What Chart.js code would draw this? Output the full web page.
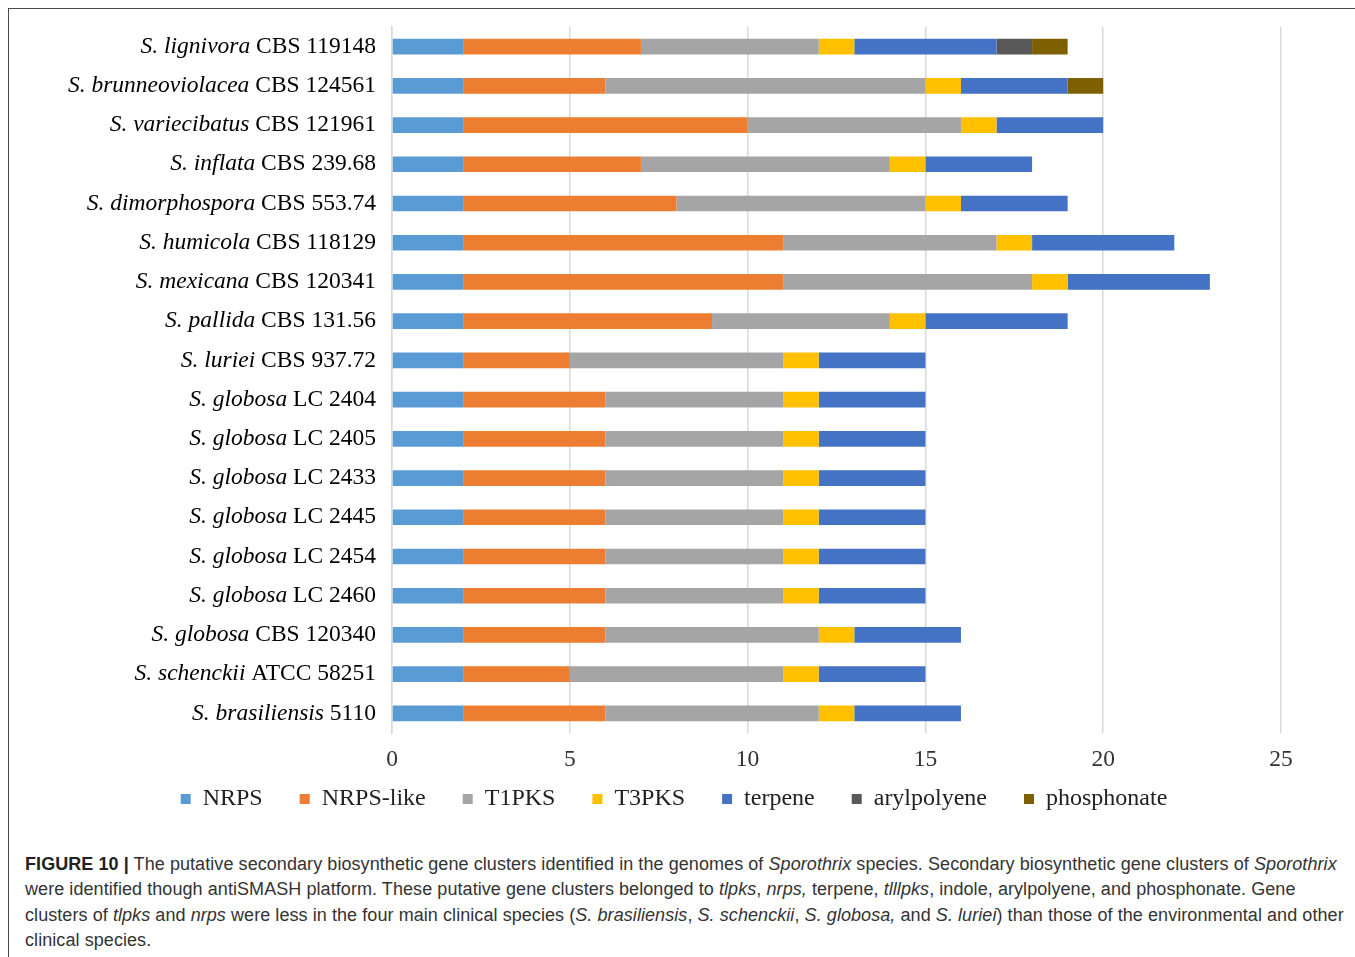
<!DOCTYPE html>
<html>
<head>
  <meta charset="UTF-8">
  <title>Sporothrix gene clusters</title>
  <script src="https://cdn.jsdelivr.net/npm/chart.js"></script>
  <style>
    body { margin: 0; background: #fff; width: 1355px; height: 957px; overflow: hidden; position: relative; }
    .frame { position: absolute; left: 8px; top: 8px; width: 1400px; height: 1000px; border: 1px solid #4a4a4a; }
    .chart-box { position: absolute; left: 9px; top: 9px; width: 1346px; height: 840px; }
    .caption { position: absolute; left: 25px; top: 852px; font-family: "Liberation Sans", Arial, sans-serif;
               font-size: 18px; letter-spacing: 0.07px; line-height: 25.3px; color: #333; }
    .caption div { white-space: nowrap; }
  </style>
</head>
<body>
  <div class="frame"></div>
  <div class="chart-box">
    <canvas id="chartClusters"></canvas>
  </div>
  <div class="caption">
    <div><b style="color:#222">FIGURE 10 |</b> The putative secondary biosynthetic gene clusters identified in the genomes of <i>Sporothrix</i> species. Secondary biosynthetic gene clusters of <i>Sporothrix</i></div>
    <div>were identified though antiSMASH platform. These putative gene clusters belonged to <i>tlpks</i>, <i>nrps,</i> terpene, <i>tlllpks</i>, indole, arylpolyene, and phosphonate. Gene</div>
    <div>clusters of <i>tlpks</i> and <i>nrps</i> were less in the four main clinical species (<i>S. brasiliensis</i>, <i>S. schenckii</i>, <i>S. globosa,</i> and <i>S. luriei</i>) than those of the environmental and other</div>
    <div>clinical species.</div>
  </div>

  <script>
    // Tên loài (in nghiêng) và mã chủng (chữ thường)
    var speciesNames = ["S. lignivora", "S. brunneoviolacea", "S. variecibatus", "S. inflata", "S. dimorphospora",
      "S. humicola", "S. mexicana", "S. pallida", "S. luriei", "S. globosa", "S. globosa", "S. globosa",
      "S. globosa", "S. globosa", "S. globosa", "S. globosa", "S. schenckii", "S. brasiliensis"];
    var strainNames = ["CBS 119148", "CBS 124561", "CBS 121961", "CBS 239.68", "CBS 553.74",
      "CBS 118129", "CBS 120341", "CBS 131.56", "CBS 937.72", "LC 2404", "LC 2405", "LC 2433",
      "LC 2445", "LC 2454", "LC 2460", "CBS 120340", "ATCC 58251", "5110"];

    // Số cụm gen theo từng loại
    var nrps        = [2, 2, 2, 2, 2, 2, 2, 2, 2, 2, 2, 2, 2, 2, 2, 2, 2, 2];
    var nrpsLike    = [5, 4, 8, 5, 6, 9, 9, 7, 3, 4, 4, 4, 4, 4, 4, 4, 3, 4];
    var t1pks       = [5, 9, 6, 7, 7, 6, 7, 5, 6, 5, 5, 5, 5, 5, 5, 6, 6, 6];
    var t3pks       = [1, 1, 1, 1, 1, 1, 1, 1, 1, 1, 1, 1, 1, 1, 1, 1, 1, 1];
    var terpene     = [4, 3, 3, 3, 3, 4, 4, 4, 3, 3, 3, 3, 3, 3, 3, 3, 3, 3];
    var arylpolyene = [1, 0, 0, 0, 0, 0, 0, 0, 0, 0, 0, 0, 0, 0, 0, 0, 0, 0];
    var phosphonate = [1, 1, 0, 0, 0, 0, 0, 0, 0, 0, 0, 0, 0, 0, 0, 0, 0, 0];

    var xTicks = [0, 5, 10, 15, 20, 25];

    var serif = '"Liberation Serif", "Times New Roman", serif';
    var labelSize = 23.5;

    // Vẽ nhãn trục y: tên loài nghiêng + mã chủng thường
    var yLabelPlugin = {
      id: "yLabels",
      afterDraw: function (chart) {
        var ctx = chart.ctx;
        var yScale = chart.scales.y;
        var right = chart.chartArea.left - 16;
        ctx.save();
        ctx.fillStyle = "#000";
        ctx.textBaseline = "middle";
        ctx.textAlign = "left";
        for (var i = 0; i < speciesNames.length; i++) {
          var y = yScale.getPixelForTick(i);
          ctx.font = labelSize + "px " + serif;
          var strain = " " + strainNames[i];
          var wStrain = ctx.measureText(strain).width;
          ctx.font = "italic " + labelSize + "px " + serif;
          var wSpecies = ctx.measureText(speciesNames[i]).width;
          var x0 = right - wStrain - wSpecies;
          ctx.fillText(speciesNames[i], x0, y);
          ctx.font = labelSize + "px " + serif;
          ctx.fillText(strain, x0 + wSpecies, y);
        }
        ctx.restore();
      }
    };

    // Kéo chú thích lên gần trục x hơn (padding lớn để giãn ngang)
    var legendShift = {
      id: "legendShift",
      afterLayout: function (chart) {
        chart.legend.top -= 28;
        chart.legend.bottom -= 28;
      }
    };

    function makeSet(label, data, color) {
      return { label: label, data: data, backgroundColor: color, borderWidth: 0,
               barPercentage: 0.4, categoryPercentage: 1.0 };
    }

    var ctx = document.getElementById("chartClusters").getContext("2d");
    var chart = new Chart(ctx, {
      type: "bar",
      data: {
        labels: speciesNames.map(function (s, i) { return s + " " + strainNames[i]; }),
        datasets: [
          makeSet("NRPS", nrps, "#5B9BD5"),
          makeSet("NRPS-like", nrpsLike, "#ED7D31"),
          makeSet("T1PKS", t1pks, "#A5A5A5"),
          makeSet("T3PKS", t3pks, "#FFC000"),
          makeSet("terpene", terpene, "#4472C4"),
          makeSet("arylpolyene", arylpolyene, "#595959"),
          makeSet("phosphonate", phosphonate, "#7F6000")
        ]
      },
      options: {
        indexAxis: "y",
        responsive: true,
        maintainAspectRatio: false,
        animation: false,
        layout: { padding: { top: 18, right: 74, bottom: 0, left: 58 } },
        plugins: {
          tooltip: { enabled: false },
          legend: {
            position: "bottom",
            labels: {
              boxWidth: 10,
              boxHeight: 10,
              padding: 37,
              color: "#222",
              font: { family: serif, size: 24 }
            }
          }
        },
        scales: {
          x: {
            stacked: true,
            min: xTicks[0],
            max: xTicks[xTicks.length - 1],
            afterBuildTicks: function (scale) {
              scale.ticks = xTicks.map(function (v) { return { value: v }; });
            },
            afterFit: function (scale) { scale.height = 45; },
            grid: { color: "#D9D9D9", lineWidth: 1.5, drawTicks: false },
            border: { display: false },
            ticks: { padding: 13, color: "#333", font: { family: serif, size: 23.5 } }
          },
          y: {
            stacked: true,
            afterFit: function (scale) { scale.width = 325; },
            grid: { display: false, drawTicks: false },
            border: { display: true, color: "#D9D9D9", width: 1.5 },
            ticks: { display: false }
          }
        }
      },
      plugins: [yLabelPlugin, legendShift]
    });
  </script>
</body>
</html>
